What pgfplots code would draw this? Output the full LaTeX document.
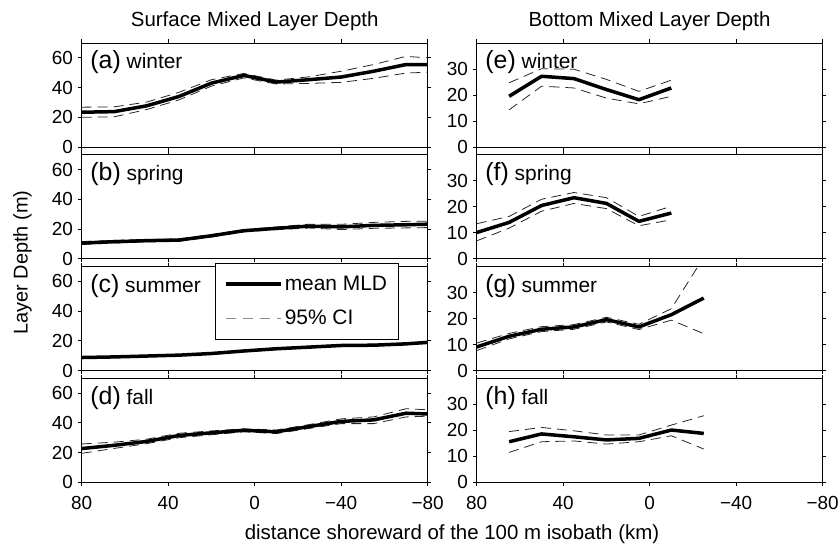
\documentclass[border=0pt]{standalone}
\usepackage{fontspec}
\setmainfont{Liberation Sans}
\usepackage{pgfplots}
\usepackage{pgfplotstable}
\pgfplotsset{compat=1.18}

% Surface mixed layer depth: mean and 95% confidence limits (m)
\pgfplotstableread{
x    m     lo    hi
80   23.4  20.0  26.8
65   23.8  20.3  27.0
50   27.7  25.2  30.2
35   34.0  31.7  36.8
20   43.0  41.0  45.3
5    48.2  46.5  49.5
-10  43.7  42.4  45.0
-25  45.3  42.8  47.2
-40  47.1  43.5  51.0
-55  51.0  46.2  55.5
-70  55.5  49.8  61.0
-80  55.5  50.3  60.0
}\sWinter
\pgfplotstableread{
x    m     lo    hi
80   10.6  9.6   11.6
65   11.5  10.6  12.4
50   12.2  11.4  13.0
35   12.6  11.8  13.4
20   15.5  14.7  16.3
5    18.9  18.2  19.6
-10  20.5  19.6  21.4
-25  22.0  20.7  23.3
-40  21.5  19.7  23.2
-55  22.5  20.5  24.5
-70  22.9  20.8  25.2
-80  23.3  21.0  25.3
}\sSpring
\pgfplotstableread{
x    m     lo    hi
80   8.8   8.4   9.2
65   9.2   8.8   9.6
50   9.8   9.4   10.2
35   10.4  10.0  10.8
20   11.5  11.1  11.9
5    13.2  12.8  13.6
-10  14.7  14.2  15.2
-25  15.8  15.3  16.3
-40  16.9  16.4  17.4
-55  17.1  16.5  17.7
-70  18.0  17.4  18.6
-80  19.0  18.4  19.6
}\sSummer
\pgfplotstableread{
x    m     lo    hi
80   22.7  19.5  25.8
65   24.9  22.8  27.0
50   27.5  26.0  29.0
35   31.5  30.0  33.0
20   33.3  32.0  34.6
5    35.0  34.0  36.0
-10  34.0  32.8  35.2
-25  37.5  36.2  38.8
-40  41.0  39.5  42.7
-55  42.0  39.5  44.0
-70  46.5  44.0  49.5
-80  46.0  44.5  48.8
}\sFall

% Bottom mixed layer depth: mean and 95% confidence limits (m)
\pgfplotstableread{
x    m     lo    hi
65   19.5  14.3  24.7
50   27.2  23.4  30.1
35   26.3  22.7  29.9
20   22.1  18.8  26.0
5    18.2  16.6  21.4
-10  22.7  19.5  25.7
}\bWinter
\pgfplotstableread{
x    m     lo    hi
80   10.1  6.9   13.5
65   14.0  11.8  16.3
50   20.5  18.3  22.9
35   23.5  21.3  25.5
20   21.3  19.3  23.5
5    14.4  12.7  16.3
-10  17.6  15.0  20.2
}\bSpring
\pgfplotstableread{
x    m     lo    hi
80   9.1   7.7   10.6
65   13.2  12.2  14.3
50   15.9  15.0  16.9
35   16.8  15.9  17.7
20   19.6  18.7  20.5
5    16.8  15.8  17.8
-10  21.5  19.4  23.8
-25  27.9  14.2  43.6
}\bSummer
\pgfplotstableread{
x    m     lo    hi
65   15.6  11.5  19.5
50   18.6  15.6  21.1
35   17.5  15.9  19.8
20   16.3  14.7  18.2
5    16.9  15.6  18.2
-10  20.1  17.9  22.0
-25  18.8  12.8  25.6
}\bFall

\pgfplotsset{
  panel/.style={
    scale only axis, width=346bp, height=104bp,
    x dir=reverse, xmin=-80, xmax=80,
    xtick={80,40,0,-40,-80}, xticklabels={},
    xtick pos=both, ytick pos=both,
    xticklabel pos=lower, yticklabel pos=left,
    axis line style={line width=0.9bp},
    tick align=outside, major tick length=3.7bp,
    tick style={black, line width=0.9bp},
    tick label style={font=\fontsize{19}{22}\selectfont},
    yticklabel style={xshift=-1.5bp},
    xticklabel style={yshift=-7bp},
    clip=true,
  },
  surf/.style={panel, ymin=0, ymax=70, ytick={0,20,40,60}, yticklabels={0,20,40,60}},
  bott/.style={panel, ymin=0, ymax=40, ytick={0,10,20,30}, yticklabels={0,10,20,30}},
  lastrow/.style={xticklabels={80,40,0,−40,−80}},
  meanline/.style={black, line width=3.5bp, line join=round, no marks},
  ciline/.style={black!85, line width=0.8bp, dash pattern=on 10bp off 6bp, no marks},
}

% season label in the upper left corner of a panel
\newcommand{\plab}[2]{%
  \node[anchor=base west, inner sep=0pt]
    at ([xshift=8.5bp,yshift=-26bp]axis description cs:0,1)
    {\fontsize{25}{28}\selectfont(#1)\fontsize{21}{24}\selectfont\ #2};}

% the three curves of one panel
\newcommand{\threelines}[1]{%
  \addplot[ciline, forget plot] table[x=x, y=lo] {#1};
  \addplot[ciline, forget plot] table[x=x, y=hi] {#1};
  \addplot[meanline, forget plot] table[x=x, y=m] {#1};}

\begin{document}
\begin{tikzpicture}

% ---- left column: surface mixed layer
\begin{axis}[surf, at={(81.7bp,397bp)}, anchor=south west]
  \threelines{\sWinter}
  \plab{a}{winter}
\end{axis}
\begin{axis}[surf, at={(81.7bp,285.2bp)}, anchor=south west]
  \threelines{\sSpring}
  \plab{b}{spring}
\end{axis}
\begin{axis}[surf, at={(81.7bp,173.4bp)}, anchor=south west,
  legend style={at={(0.385,1.036)}, anchor=north west, draw=black,
    line width=0.8bp, fill=white, inner xsep=9bp, inner ysep=11bp,
    font=\fontsize{21}{24}\selectfont, row sep=14bp, cells={anchor=west},
    /tikz/every even column/.append style={column sep=4bp}},
  legend image code/.code={\draw[#1] (0bp,0bp) -- (55bp,0bp);}]
  \addlegendimage{meanline}
  \addlegendentry{mean MLD}
  \addlegendimage{black!45, line width=0.8bp, dash pattern=on 10bp off 7bp}
  \addlegendentry{95\% CI}
  \threelines{\sSummer}
  \plab{c}{summer}
\end{axis}
\begin{axis}[surf, lastrow, at={(81.7bp,61.7bp)}, anchor=south west]
  \threelines{\sFall}
  \plab{d}{fall}
\end{axis}

% ---- right column: bottom mixed layer
\begin{axis}[bott, at={(476.7bp,397bp)}, anchor=south west]
  \threelines{\bWinter}
  \plab{e}{winter}
\end{axis}
\begin{axis}[bott, at={(476.7bp,285.2bp)}, anchor=south west]
  \threelines{\bSpring}
  \plab{f}{spring}
\end{axis}
\begin{axis}[bott, at={(476.7bp,173.4bp)}, anchor=south west]
  \threelines{\bSummer}
  \plab{g}{summer}
\end{axis}
\begin{axis}[bott, lastrow, at={(476.7bp,61.7bp)}, anchor=south west]
  \threelines{\bFall}
  \plab{h}{fall}
\end{axis}

% ---- titles and shared axis labels
\node[anchor=base, inner sep=0pt, font=\fontsize{20.5}{24}\selectfont]
  at (254.7bp,517.3bp) {Surface Mixed Layer Depth};
\node[anchor=base, inner sep=0pt, font=\fontsize{20.5}{24}\selectfont]
  at (649.5bp,517.3bp) {Bottom Mixed Layer Depth};
\node[anchor=base, inner sep=0pt, rotate=90, font=\fontsize{20}{24}\selectfont]
  at (27.5bp,281.5bp) {Layer Depth (m)};
\node[anchor=base, inner sep=0pt, font=\fontsize{20.5}{24}\selectfont]
  at (452bp,4.5bp) {distance shoreward of the 100 m isobath (km)};

% fix the page to the full figure area
\pgfresetboundingbox
\path[use as bounding box] (0,0) rectangle (839bp,544bp);
\end{tikzpicture}
\end{document}
